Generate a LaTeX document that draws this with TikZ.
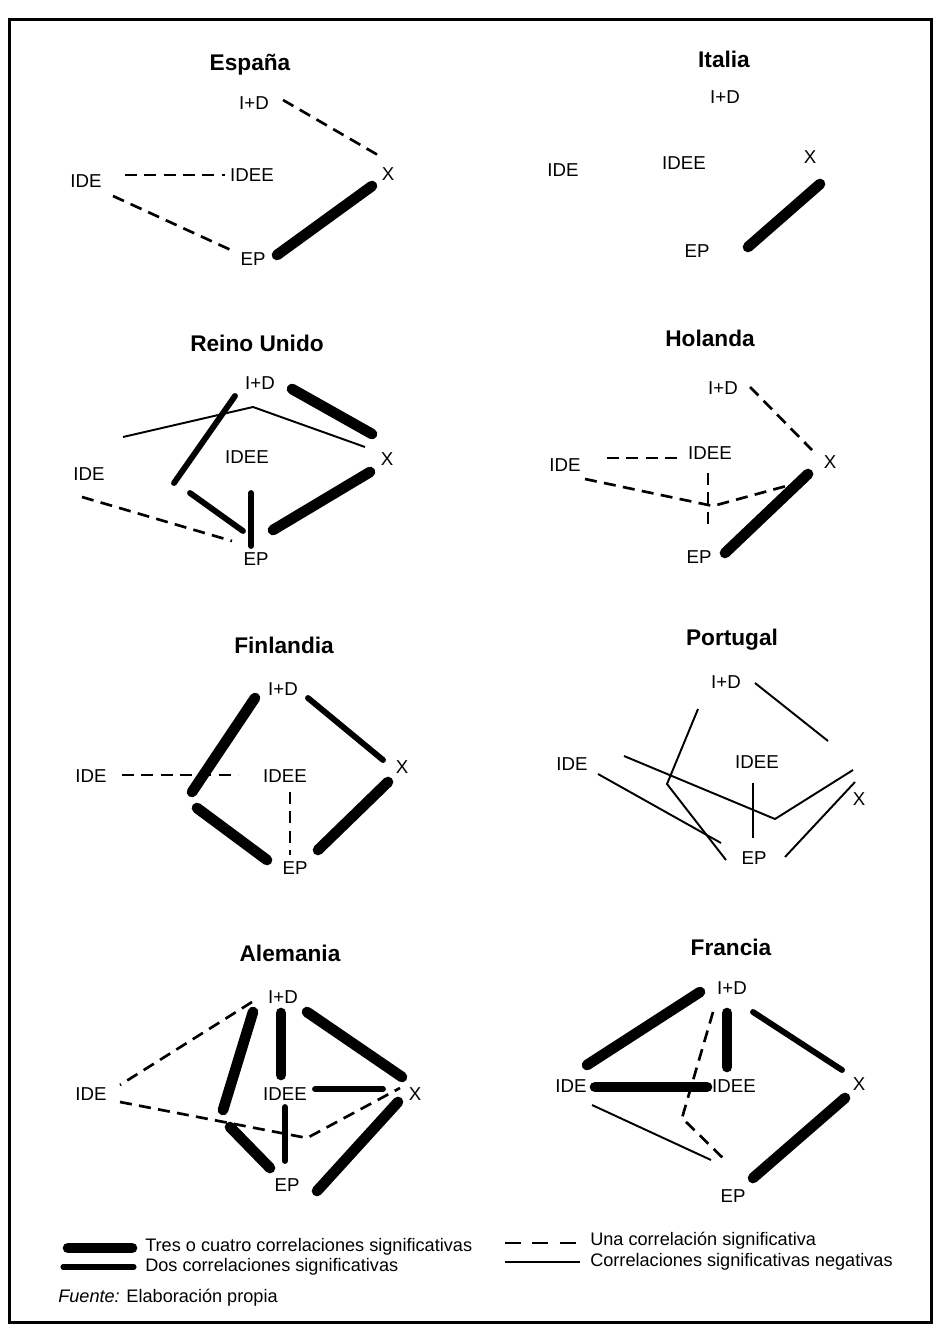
\documentclass[tikz,border=0pt]{standalone}
\usepackage{fontspec}
\setmainfont{Liberation Sans}
\usetikzlibrary{calc}
\begin{document}
\begin{tikzpicture}[x=0.75pt,y=-0.75pt,
  lbl/.style={inner sep=0pt,font=\fontsize{14}{16}\selectfont},
  ttl/.style={inner sep=0pt,font=\fontsize{17}{20}\selectfont\bfseries},
  thk/.style={line width=8pt,line cap=round},
  med/.style={line width=4.4pt,line cap=round},
  thn/.style={line width=1.45pt},
  dsh/.style={line width=2pt,dash pattern=on 9pt off 5.5pt},
  leg/.style={inner sep=0pt,anchor=west,font=\fontsize{13.6}{16}\selectfont}]
\useasboundingbox (0,0) rectangle (935,1326);
\draw[line width=2.25pt] (9,20) rectangle (931,1322);

% ---------------- España
\node[ttl] (Et) at (250,65) {España};
\node[lbl] (Eid) at (254,103) {I+D};
\node[lbl] (Ex) at (388,174) {X};
\node[lbl] (Eide) at (86,181) {IDE};
\node[lbl] (Eidee) at (252,175) {IDEE};
\node[lbl] (Eep) at (253,259) {EP};
\draw[dsh] ($(Eid)+(29,-3)$) -- ($(Ex)+(-5,-16)$);
\draw[dsh] ($(Eide)+(39,-6)$) -- ($(Eidee)+(-27,0)$);
\draw[dsh] ($(Eide)+(27,15)$) -- ($(Eep)+(-20,-8)$);
\draw[thk] ($(Eep)+(24,-4)$) -- ($(Ex)+(-16,12)$);

% ---------------- Italia
\node[ttl] (It) at (724,59) {Italia};
\node[lbl] (Iid) at (725,97) {I+D};
\node[lbl] (Iide) at (563,170) {IDE};
\node[lbl] (Iidee) at (684,163) {IDEE};
\node[lbl] (Ix) at (810,157) {X};
\node[lbl] (Iep) at (697,251) {EP};
\draw[thk] ($(Iep)+(51,-4)$) -- ($(Ix)+(10,27)$);

% ---------------- Reino Unido
\node[ttl] (Rt) at (257,343) {Reino Unido};
\node[lbl] (Rid) at (260,383) {I+D};
\node[lbl] (Ride) at (89,474) {IDE};
\node[lbl] (Ridee) at (247,457) {IDEE};
\node[lbl] (Rx) at (387,459) {X};
\node[lbl] (Rep) at (256,559) {EP};
\coordinate (Rb1) at (253,407);
\coordinate (Rb2) at (174,483);
\coordinate (Rb3) at (190,493);
\draw[thk] ($(Rid)+(32,6)$) -- ($(Rx)+(-15,-25)$);
\draw[thn] ($(Ride)+(34,-37)$) -- (Rb1) -- ($(Rx)+(-22,-12)$);
\draw[med] ($(Rid)+(-25,13)$) -- (Rb2);
\draw[med] (Rb3) -- ($(Rep)+(-13,-28)$);
\draw[med] ($(Ridee)+(4,36)$) -- ($(Rep)+(-5,-13)$);
\draw[thk] ($(Rep)+(17,-29)$) -- ($(Rx)+(-17,13)$);
\draw[dsh] ($(Ride)+(-7,23)$) -- ($(Rep)+(-24,-18)$);

% ---------------- Holanda
\node[ttl] (Ht) at (710,338) {Holanda};
\node[lbl] (Hid) at (723,388) {I+D};
\node[lbl] (Hidee) at (710,453) {IDEE};
\node[lbl] (Hide) at (565,465) {IDE};
\node[lbl] (Hx) at (830,462) {X};
\node[lbl] (Hep) at (699,557) {EP};
\coordinate (Hb1) at (713,506);
\draw[dsh] ($(Hid)+(27,-1)$) -- ($(Hx)+(-18,-12)$);
\draw[dsh] ($(Hide)+(42,-7)$) -- ($(Hidee)+(-27,5)$);
\draw[dsh] ($(Hidee)+(-2,20)$) -- ($(Hep)+(9,-29)$);
\draw[dsh] ($(Hide)+(20,14)$) -- (Hb1) -- ($(Hx)+(-40,23)$);
\draw[thk] ($(Hep)+(26,-4)$) -- ($(Hx)+(-22,12)$);

% ---------------- Finlandia
\node[ttl] (Ft) at (284,645) {Finlandia};
\node[lbl] (Fid) at (283,689) {I+D};
\node[lbl] (Fide) at (91,776) {IDE};
\node[lbl] (Fidee) at (285,776) {IDEE};
\node[lbl] (Fx) at (402,767) {X};
\node[lbl] (Fep) at (295,868) {EP};
\coordinate (Fb1) at (192,792);
\coordinate (Fb2) at (197,808);
\draw[thk] ($(Fid)+(-28,9)$) -- (Fb1);
\draw[thk] (Fb2) -- ($(Fep)+(-28,-8)$);
\draw[med] ($(Fid)+(25,9)$) -- ($(Fx)+(-19,-7)$);
\draw[dsh] ($(Fide)+(31,-1)$) -- ($(Fidee)+(-47,-1)$);
\draw[dsh] ($(Fidee)+(5,16)$) -- ($(Fep)+(-5,-13)$);
\draw[thk] ($(Fep)+(23,-18)$) -- ($(Fx)+(-14,15)$);

% ---------------- Portugal
\node[ttl] (Pt) at (732,640) {Portugal};
\node[lbl] (Pid) at (726,682) {I+D};
\node[lbl] (Pide) at (572,764) {IDE};
\node[lbl] (Pidee) at (757,762) {IDEE};
\node[lbl] (Px) at (859,799) {X};
\node[lbl] (Pep) at (754,858) {EP};
\coordinate (Pb1) at (667,784);
\coordinate (Pb2) at (775,819);
\draw[thn] ($(Pid)+(29,1)$) -- ($(Px)+(-31,-58)$);
\draw[thn] ($(Pid)+(-28,27)$) -- (Pb1) -- ($(Pep)+(-28,2)$);
\draw[thn] ($(Pide)+(26,10)$) -- ($(Pep)+(-33,-15)$);
\draw[thn] ($(Pide)+(52,-8)$) -- (Pb2) -- ($(Px)+(-6,-29)$);
\draw[thn] ($(Pidee)+(-4,21)$) -- ($(Pep)+(-1,-20)$);
\draw[thn] ($(Pep)+(31,-1)$) -- ($(Px)+(-4,-17)$);

% ---------------- Alemania
\node[ttl] (At) at (290,953) {Alemania};
\node[lbl] (Aid) at (283,997) {I+D};
\node[lbl] (Aide) at (91,1094) {IDE};
\node[lbl] (Aidee) at (285,1094) {IDEE};
\node[lbl] (Ax) at (415,1094) {X};
\node[lbl] (Aep) at (287,1185) {EP};
\coordinate (Ab1) at (307,1138);
\coordinate (Ab2) at (223,1110);
\coordinate (Ab3) at (230,1127);
\draw[dsh] ($(Aid)+(-31,5)$) -- ($(Aide)+(29,-9)$);
\draw[dsh] ($(Aide)+(29,8)$) -- (Ab1) -- ($(Ax)+(-15,-6)$);
\draw[thk] ($(Aid)+(-30,15)$) -- (Ab2);
\draw[thk] (Ab3) -- ($(Aep)+(-17,-17)$);
\draw[thk] ($(Aid)+(-2,16)$) -- ($(Aidee)+(-4,-19)$);
\draw[thk] ($(Aid)+(24,15)$) -- ($(Ax)+(-13,-17)$);
\draw[med] ($(Aidee)+(30,-5)$) -- ($(Ax)+(-32,-5)$);
\draw[med] ($(Aidee)+(0,13)$) -- ($(Aep)+(-2,-24)$);
\draw[thk] ($(Aep)+(30,6)$) -- ($(Ax)+(-17,8)$);

% ---------------- Francia
\node[ttl] (Gt) at (731,947) {Francia};
\node[lbl] (Gid) at (732,988) {I+D};
\node[lbl] (Gide) at (571,1086) {IDE};
\node[lbl] (Gidee) at (734,1086) {IDEE};
\node[lbl] (Gx) at (859,1084) {X};
\node[lbl] (Gep) at (733,1196) {EP};
\coordinate (Gb1) at (682,1118);
\draw[thk] ($(Gide)+(16,-21)$) -- ($(Gid)+(-32,4)$);
\draw[thk] ($(Gide)+(24,1)$) -- ($(Gidee)+(-27,1)$);
\draw[thk] ($(Gid)+(-5,25)$) -- ($(Gidee)+(-7,-19)$);
\draw[med] ($(Gid)+(21,24)$) -- ($(Gx)+(-17,-14)$);
\draw[thk] ($(Gep)+(20,-18)$) -- ($(Gx)+(-14,14)$);
\draw[thn] ($(Gide)+(21,19)$) -- ($(Gep)+(-22,-36)$);
\draw[dsh] ($(Gid)+(-19,24)$) -- (Gb1) -- ($(Gep)+(-6,-34)$);

% ---------------- Legend
\node[leg] (L1) at (145,1247) {Tres o cuatro correlaciones significativas};
\node[leg] (L2) at (145,1267) {Dos correlaciones significativas};
\node[leg] (L3) at (590,1241) {Una correlación significativa};
\node[leg] (L4) at (590,1262) {Correlaciones significativas negativas};
\node[leg] (L5) at (58,1298) {\itshape Fuente:\upshape{} Elaboración propia};
\draw[thk] ($(L1.west)+(-77,1)$) -- ($(L1.west)+(-13,1)$);
\draw[line width=3.8pt,line cap=round] ($(L2.west)+(-82,0)$) -- ($(L2.west)+(-11,0)$);
\draw[line width=1.9pt,dash pattern=on 12pt off 8.5pt] ($(L3.west)+(-85,2)$) -- ($(L3.west)+(-10,2)$);
\draw[thn] ($(L4.west)+(-85,0)$) -- ($(L4.west)+(-10,0)$);
\end{tikzpicture}
\end{document}
